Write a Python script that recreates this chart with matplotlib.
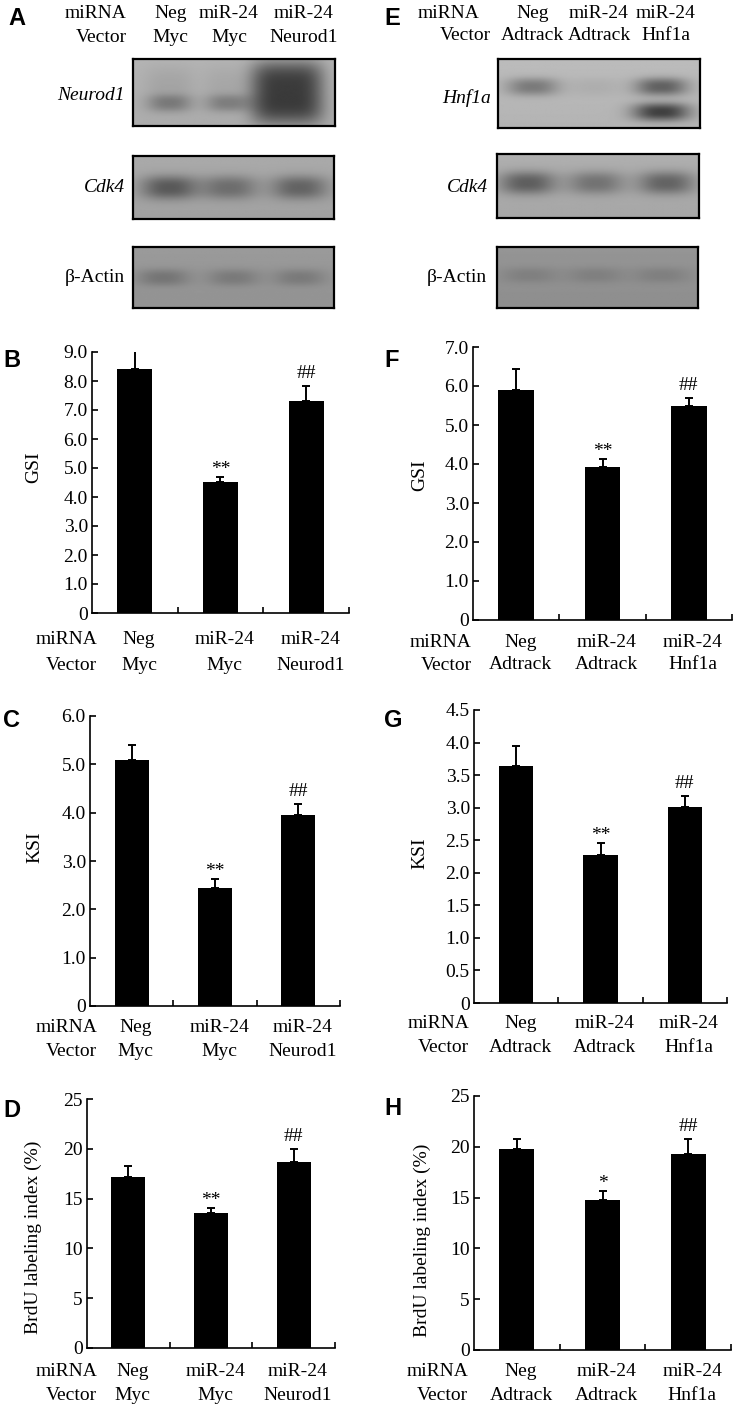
import numpy as np
import matplotlib.pyplot as plt

plt.rcParams['font.family'] = ['Liberation Serif', 'DejaVu Serif']

W, H = 736, 1406
FS = 14

# group labels
mirna_groups = ['Neg', 'miR-24', 'miR-24']
vector_myc = ['Myc', 'Myc', 'Neurod1']
vector_adtrack = ['Adtrack', 'Adtrack', 'Hnf1a']

# bar values (mean, upper SE)
gsi_myc = [8.42, 4.53, 7.32]
gsi_myc_err = [0.76, 0.17, 0.50]
ksi_myc = [5.08, 2.45, 3.95]
ksi_myc_err = [0.31, 0.17, 0.23]
brdu_myc = [17.2, 13.6, 18.65]
brdu_myc_err = [1.07, 0.50, 1.33]

gsi_hnf = [5.91, 3.93, 5.48]
gsi_hnf_err = [0.52, 0.20, 0.22]
ksi_hnf = [3.64, 2.27, 3.01]
ksi_hnf_err = [0.30, 0.18, 0.17]
brdu_hnf = [19.75, 14.76, 19.3]
brdu_hnf_err = [1.00, 0.90, 1.45]

marks_std = ['', '**', '##']
marks_brdu_hnf = ['', '*', '##']

# y ticks
gsi_myc_ticks = [0, 1, 2, 3, 4, 5, 6, 7, 8, 9]
gsi_myc_labels = ['0', '1.0', '2.0', '3.0', '4.0', '5.0', '6.0', '7.0', '8.0', '9.0']
ksi_myc_ticks = [0, 1, 2, 3, 4, 5, 6]
ksi_myc_labels = ['0', '1.0', '2.0', '3.0', '4.0', '5.0', '6.0']
gsi_hnf_ticks = [0, 1, 2, 3, 4, 5, 6, 7]
gsi_hnf_labels = ['0', '1.0', '2.0', '3.0', '4.0', '5.0', '6.0', '7.0']
ksi_hnf_ticks = [0, 0.5, 1, 1.5, 2, 2.5, 3, 3.5, 4, 4.5]
ksi_hnf_labels = ['0', '0.5', '1.0', '1.5', '2.0', '2.5', '3.0', '3.5', '4.0', '4.5']
brdu_ticks = [0, 5, 10, 15, 20, 25]
brdu_labels = ['0', '5', '10', '15', '20', '25']

# western blot band densities per lane (relative darkness)
neurod1_lower = [0.17, 0.16, 0.0]
neurod1_smear = [0.05, 0.04, 0.0]
neurod1_over = [0.0, 0.0, 0.46]
cdk4_myc = [0.30, 0.22, 0.26]
actin_myc = [0.13, 0.11, 0.11]
hnf1a_upper = [0.24, 0.04, 0.34]
hnf1a_lower = [0.0, 0.0, 0.46]
cdk4_hnf = [0.30, 0.22, 0.28]
actin_hnf = [0.07, 0.07, 0.07]

fig = plt.figure(figsize=(W / 100, H / 100), dpi=100)


def px_axes(x0, y0, x1, y1):
    return fig.add_axes([x0 / W, 1 - y1 / H, (x1 - x0) / W, (y1 - y0) / H])


def px_text(x, y, s, **kw):
    kw.setdefault('fontsize', FS)
    kw.setdefault('va', 'center')
    return fig.text(x / W, 1 - y / H, s, **kw)


def letter(x, y, s):
    fig.text(x / W, 1 - y / H, s, fontsize=17, fontweight='bold',
             family='Liberation Sans', ha='left', va='baseline')


def draw_blot(box, lanes, rows, bg):
    ax = px_axes(*box)
    X, Y = np.meshgrid(np.linspace(0, 1, 240), np.linspace(0, 1, 80))
    img = np.full_like(X, bg) + 0.03 * (0.5 - Y)
    for yc, dens, sx, sy, p in rows:
        for lx, d in zip(lanes, dens):
            img = img - d * np.exp(-np.abs((X - lx) / sx) ** p - np.abs((Y - yc) / sy) ** p)
    ax.imshow(np.clip(img, 0, 1), cmap='gray', vmin=0, vmax=1, extent=(0, 1, 1, 0),
              aspect='auto', interpolation='bilinear')
    ax.set_xticks([])
    ax.set_yticks([])
    for s in ax.spines.values():
        s.set_linewidth(1.6)
    return ax


def bar_panel(box, vals, errs, marks, ticks, ticklabels, ylabel, ylab_right, ylab_y,
              vectors, row_y, head_x):
    x0, y0, x1, y1 = box
    ax = px_axes(*box)
    x = np.arange(len(vals))
    ax.bar(x, vals, width=0.41, color='black')
    ax.errorbar(x, vals, yerr=[np.zeros(len(vals)), errs], fmt='none', ecolor='black',
                elinewidth=1.4, capsize=2.8, capthick=1.4)
    ax.set_xlim(-0.5, 2.5)
    ax.set_ylim(ticks[0], ticks[-1])
    ax.set_yticks(ticks)
    ax.set_yticklabels(ticklabels, fontsize=FS)
    ax.set_xticks([0.5, 1.5, 2.5])
    ax.set_xticklabels([])
    ax.tick_params(direction='in', length=4, width=1.2, pad=3)
    for s in ['top', 'right']:
        ax.spines[s].set_visible(False)
    for s in ['left', 'bottom']:
        ax.spines[s].set_linewidth(1.2)
    ax.set_ylabel(ylabel, fontsize=FS)
    ax.yaxis.set_label_coords((ylab_right - x0) / (x1 - x0), (y1 - ylab_y) / (y1 - y0))
    for xi, v, e, m in zip(x, vals, errs, marks):
        if m:
            off = 3 if '*' in m else 8
            ax.annotate(m, (xi, v + e), xytext=(0, off * 0.72), textcoords='offset points',
                        ha='center', va='baseline', fontsize=FS)
    # group labels under the axis
    for xi, a, b in zip(x, mirna_groups, vectors):
        ax.annotate(a, (xi, 0), xycoords=('data', 'axes fraction'),
                    xytext=(3, -(row_y[0] - y1) * 0.72), textcoords='offset points',
                    ha='center', va='center', fontsize=FS)
        ax.annotate(b, (xi, 0), xycoords=('data', 'axes fraction'),
                    xytext=(3, -(row_y[1] - y1) * 0.72), textcoords='offset points',
                    ha='center', va='center', fontsize=FS)
    px_text(head_x, row_y[0], 'miRNA', ha='right')
    px_text(head_x, row_y[1], 'Vector', ha='right')
    return ax


# ---- panel A: blots ----
lanes_a = [0.18, 0.48, 0.83]
draw_blot((133, 59, 335, 126), [0.18, 0.47, 0.765],
          [(0.45, neurod1_smear, 0.12, 0.35, 3),
           (0.66, neurod1_lower, 0.11, 0.13, 2.5),
           (0.50, neurod1_over, 0.18, 0.47, 4)], 0.69)
draw_blot((133, 156, 334, 219), lanes_a, [(0.5, cdk4_myc, 0.14, 0.19, 2.5)], 0.65)
draw_blot((133, 247, 334, 308), [0.15, 0.5, 0.83], [(0.5, actin_myc, 0.13, 0.14, 2.5)], 0.59)
px_text(125, 95, 'Neurod1', ha='right', style='italic')
px_text(125, 188, 'Cdk4', ha='right', style='italic')
px_text(125, 277, 'β-Actin', ha='right')
px_text(127, 13, 'miRNA', ha='right')
px_text(127, 37, 'Vector', ha='right')
for lx, a, b in zip([0.17, 0.46, 0.83], mirna_groups, vector_myc):
    px_text(133 + lx * 202 + 3, 13, a, ha='center')
    px_text(133 + lx * 202 + 3, 37, b, ha='center')
letter(8, 25, 'A')

# ---- panel E: blots ----
lanes_e = [0.16, 0.49, 0.82]
draw_blot((498, 59, 700, 128), [0.17, 0.48, 0.81],
          [(0.40, hnf1a_upper, 0.13, 0.13, 2.5),
           (0.77, hnf1a_lower, 0.14, 0.13, 2.5)], 0.72)
draw_blot((497, 154, 699, 218), [0.15, 0.49, 0.84], [(0.45, cdk4_hnf, 0.14, 0.18, 2.5)], 0.67)
draw_blot((497, 247, 698, 308), lanes_e, [(0.46, actin_hnf, 0.14, 0.13, 2.5)], 0.57)
px_text(491, 98, 'Hnf1a', ha='right', style='italic')
px_text(488, 188, 'Cdk4', ha='right', style='italic')
px_text(487, 277, 'β-Actin', ha='right')
px_text(479, 13, 'miRNA', ha='right')
px_text(491, 35, 'Vector', ha='right')
for lx, a, b in zip(lanes_e, mirna_groups, vector_adtrack):
    px_text(498 + lx * 202 + 2, 13, a, ha='center')
    px_text(498 + lx * 202 + 2, 35, b, ha='center')
letter(384, 25, 'E')

# ---- bar panels ----
bar_panel((92, 352, 349, 613), gsi_myc, gsi_myc_err, marks_std, gsi_myc_ticks, gsi_myc_labels,
          'GSI', 42, 467, vector_myc, (640, 665), 97)
letter(3, 367, 'B')
bar_panel((90, 716, 340, 1006), ksi_myc, ksi_myc_err, marks_std, ksi_myc_ticks, ksi_myc_labels,
          'KSI', 43, 847, vector_myc, (1028, 1052), 97)
letter(3, 727, 'C')
bar_panel((87, 1099, 335, 1348), brdu_myc, brdu_myc_err, marks_std, brdu_ticks, brdu_labels,
          'BrdU labeling index (%)', 42, 1237, vector_myc, (1372, 1395), 97)
letter(3, 1117, 'D')

bar_panel((473, 347, 732, 620), gsi_hnf, gsi_hnf_err, marks_std, gsi_hnf_ticks, gsi_hnf_labels,
          'GSI', 428, 475, vector_adtrack, (643, 665), 472)
letter(384, 367, 'F')
bar_panel((474, 710, 727, 1003), ksi_hnf, ksi_hnf_err, marks_std, ksi_hnf_ticks, ksi_hnf_labels,
          'KSI', 428, 853, vector_adtrack, (1023, 1048), 469)
letter(384, 727, 'G')
bar_panel((474, 1096, 731, 1350), brdu_hnf, brdu_hnf_err, marks_brdu_hnf, brdu_ticks, brdu_labels,
          'BrdU labeling index (%)', 431, 1240, vector_adtrack, (1372, 1395), 468)
letter(384, 1115, 'H')

fig.savefig('out.png', dpi=100)
